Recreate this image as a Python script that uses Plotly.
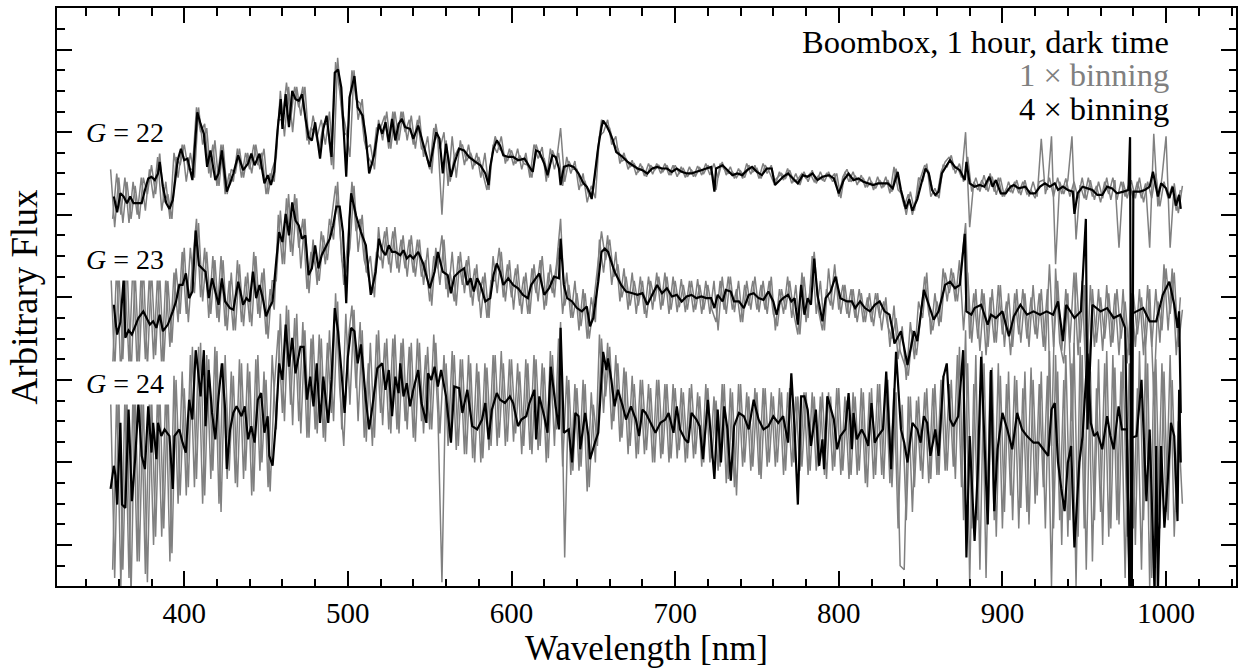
import plotly.graph_objects as go

# ---------------- data ----------------
# 1x binning spectra. Each series is stored as two interleaved pixel sets on regular
# wavelength grids: set A starts at WL1A_START, set B at WL1B_START, both with step WL1_STEP nm.
WL1A_START = 355.0
WL1B_START = 356.25
WL1_STEP = 2.5

BIN1_G22_A = [
    4.55, 3.85, 4.45, 3.90, 4.40, 3.95, 4.35, 3.95, 4.45, 4.25,
    4.60, 4.25, 4.75, 4.15, 4.25, 3.95, 4.70, 4.60, 4.85, 4.55,
    4.55, 5.30, 5.00, 5.10, 4.50, 4.85, 4.35, 4.85, 4.25, 4.50,
    4.40, 4.80, 4.45, 4.75, 4.55, 4.85, 4.60, 4.75, 4.25, 4.50,
    4.40, 5.15, 5.15, 5.60, 5.15, 5.55, 5.30, 5.55, 4.90, 5.05,
    5.00, 4.80, 5.10, 5.10, 4.60, 5.85, 5.50, 5.00, 4.95, 5.75,
    5.40, 5.35, 4.90, 4.70, 4.60, 5.05, 5.05, 5.20, 4.80, 5.25,
    4.85, 5.25, 5.00, 5.15, 4.85, 5.15, 4.80, 4.75, 4.55, 5.05,
    4.90, 4.00, 4.90, 4.40, 4.70, 4.80, 4.85, 4.65, 4.75, 4.60,
    4.70, 4.50, 4.30, 4.65, 4.95, 4.80, 4.75, 4.65, 4.78, 4.62,
    4.72, 4.62, 4.60, 4.45, 4.85, 4.70, 4.68, 4.45, 4.78, 4.65,
    5.05, 4.40, 4.65, 4.55, 4.55, 4.35, 4.40, 4.22, 4.30, 4.75,
    5.15, 5.10, 5.05, 4.85, 4.80, 4.65, 4.68, 4.58, 4.62, 4.52,
    4.58, 4.46, 4.60, 4.54, 4.60, 4.52, 4.60, 4.48, 4.60, 4.50,
    4.56, 4.46, 4.54, 4.47, 4.57, 4.50, 4.60, 4.52, 4.30, 4.62,
    4.55, 4.50, 4.52, 4.45, 4.53, 4.45, 4.60, 4.52, 4.56, 4.44,
    4.60, 4.52, 4.40, 4.45, 4.50, 4.44, 4.54, 4.40, 4.43, 4.50,
    4.44, 4.50, 4.40, 4.47, 4.42, 4.50, 4.44, 4.50, 4.22, 4.46,
    4.55, 4.40, 4.47, 4.40, 4.44, 4.34, 4.40, 4.32, 4.42, 4.34,
    4.42, 4.28, 4.56, 4.30, 4.10, 4.25, 4.00, 4.22, 4.45, 4.60,
    4.52, 4.28, 4.22, 4.52, 4.64, 4.70, 4.55, 4.58, 4.45, 5.00,
    3.85, 4.40, 4.30, 4.42, 4.30, 4.50, 4.28, 4.45, 4.22, 4.32,
    4.28, 4.40, 4.26, 4.40, 4.25, 4.30, 4.20, 4.40, 4.42, 4.30,
    4.95, 3.40, 4.40, 4.25, 4.42, 4.95, 3.70, 4.36, 4.20, 4.45,
    4.22, 4.35, 4.15, 4.40, 4.25, 4.45, 4.18, 4.40, 4.22, 4.38,
    4.20, 4.40, 4.20, 4.38, 3.60, 4.98, 4.10, 4.45, 4.95, 3.60,
    4.38, 4.02, 4.35,
]
BIN1_G22_B = [
    3.95, 4.50, 4.00, 4.45, 3.90, 4.40, 4.00, 4.45, 4.05, 4.55,
    4.20, 4.70, 4.05, 4.40, 3.95, 4.75, 4.45, 4.85, 4.40, 4.75,
    4.45, 5.30, 4.85, 5.05, 4.45, 4.90, 4.35, 4.85, 4.25, 4.55,
    4.50, 4.80, 4.45, 4.75, 4.50, 4.85, 4.55, 4.80, 4.25, 4.55,
    4.70, 5.50, 4.95, 5.55, 5.00, 5.55, 5.20, 5.55, 4.85, 5.20,
    4.95, 5.15, 4.85, 5.25, 4.55, 5.90, 5.30, 5.05, 4.70, 5.75,
    5.15, 5.40, 4.80, 4.85, 4.55, 5.15, 4.90, 5.25, 4.80, 5.25,
    4.90, 5.25, 4.90, 5.20, 4.80, 5.20, 4.70, 4.95, 4.50, 5.10,
    4.80, 5.00, 4.35, 4.95, 4.45, 4.90, 4.60, 4.85, 4.55, 4.75,
    4.45, 4.75, 4.30, 4.85, 4.75, 4.95, 4.62, 4.80, 4.60, 4.80,
    4.55, 4.75, 4.45, 4.85, 4.68, 4.82, 4.40, 4.80, 4.55, 4.75,
    4.35, 4.70, 4.50, 4.65, 4.30, 4.50, 4.15, 4.35, 4.20, 4.95,
    5.00, 5.15, 4.85, 4.95, 4.62, 4.75, 4.55, 4.66, 4.48, 4.62,
    4.47, 4.62, 4.49, 4.62, 4.50, 4.62, 4.48, 4.60, 4.46, 4.58,
    4.45, 4.58, 4.46, 4.59, 4.48, 4.62, 4.48, 4.62, 4.45, 4.64,
    4.48, 4.58, 4.44, 4.56, 4.44, 4.62, 4.49, 4.60, 4.44, 4.62,
    4.50, 4.60, 4.36, 4.52, 4.42, 4.56, 4.38, 4.50, 4.36, 4.52,
    4.40, 4.54, 4.38, 4.52, 4.40, 4.52, 4.40, 4.50, 4.20, 4.52,
    4.40, 4.52, 4.36, 4.48, 4.33, 4.46, 4.30, 4.46, 4.32, 4.46,
    4.26, 4.58, 4.30, 4.25, 4.00, 4.28, 4.05, 4.45, 4.40, 4.62,
    4.22, 4.32, 4.20, 4.60, 4.58, 4.72, 4.50, 4.62, 4.40, 4.70,
    4.28, 4.45, 4.28, 4.48, 4.28, 4.46, 4.24, 4.45, 4.22, 4.40,
    4.26, 4.42, 4.24, 4.42, 4.22, 4.40, 4.22, 4.92, 4.25, 4.45,
    4.22, 4.45, 4.25, 4.44, 4.22, 4.40, 4.20, 4.45, 4.18, 4.42,
    4.18, 4.40, 4.20, 4.45, 4.18, 4.42, 3.60, 4.40, 4.20, 4.42,
    4.20, 4.45, 4.15, 4.40, 4.20, 4.50, 4.10, 4.40, 4.20, 4.35,
    4.05, 4.30,
]

BIN1_G23_A = [
    3.40, 2.10, 3.35, 2.25, 3.45, 2.05, 3.30, 2.20, 3.40, 2.15,
    3.35, 2.30, 3.30, 2.20, 3.20, 2.45, 3.35, 2.80, 3.60, 2.70,
    3.40, 3.95, 3.00, 3.60, 2.75, 3.50, 2.75, 3.50, 2.65, 3.20,
    2.60, 3.45, 2.70, 3.25, 2.70, 3.55, 2.80, 3.30, 2.55, 3.10,
    2.85, 4.00, 3.40, 4.20, 3.55, 4.25, 3.60, 3.95, 3.10, 3.55,
    3.40, 3.20, 3.75, 3.45, 3.95, 4.35, 3.85, 3.15, 3.70, 4.40,
    3.80, 3.95, 3.45, 3.25, 3.05, 3.55, 3.45, 3.80, 3.40, 3.80,
    3.35, 3.70, 3.35, 3.70, 3.30, 3.70, 3.25, 3.45, 2.95, 3.50,
    3.35, 3.75, 3.10, 3.30, 2.95, 3.50, 3.15, 3.45, 3.00, 3.35,
    2.95, 3.25, 2.75, 3.20, 3.20, 3.60, 3.00, 3.40, 3.00, 3.35,
    2.90, 3.25, 2.80, 3.35, 3.05, 3.45, 2.85, 3.30, 3.05, 3.40,
    3.95, 2.90, 3.15, 2.75, 3.05, 2.65, 3.05, 2.50, 2.90, 3.35,
    3.80, 3.45, 3.70, 3.25, 3.40, 3.00, 3.25, 2.90, 3.20, 2.90,
    3.20, 2.75, 3.20, 2.95, 3.25, 2.90, 3.25, 2.85, 3.20, 2.88,
    3.15, 2.85, 3.20, 2.85, 3.15, 2.85, 3.15, 2.85, 2.70, 3.20,
    2.85, 3.25, 2.85, 3.10, 2.70, 3.15, 2.90, 3.20, 2.85, 3.15,
    2.85, 3.20, 2.80, 2.65, 3.10, 2.85, 3.20, 2.80, 2.55, 3.30,
    2.70, 3.10, 3.55, 2.85, 2.60, 3.10, 2.90, 3.40, 2.85, 3.15,
    2.80, 3.10, 2.75, 3.10, 2.70, 3.00, 2.70, 3.05, 2.75, 2.95,
    2.65, 2.50, 2.75, 2.35, 2.20, 2.05, 2.60, 2.30, 2.75, 3.25,
    2.80, 2.60, 2.95, 2.70, 3.30, 3.05, 3.30, 2.95, 3.40, 3.90,
    2.50, 3.05, 2.50, 3.10, 2.30, 3.00, 2.45, 3.15, 2.55, 2.95,
    2.30, 3.05, 2.55, 3.10, 2.50, 3.00, 2.55, 3.05, 2.40, 3.10,
    1.20, 3.35, 2.45, 2.20, 3.05, 1.50, 3.30, 2.45, 3.15, 1.70,
    3.10, 2.45, 3.00, 2.50, 3.05, 2.45, 3.10, 2.50, 2.95, 2.30,
    3.05, 2.55, 3.00, 2.40, 3.10, 1.80, 2.95, 2.60, 3.35, 2.80,
    3.30, 2.40, 2.85,
]
BIN1_G23_B = [
    2.15, 3.40, 2.05, 3.30, 2.20, 3.45, 2.10, 3.35, 2.25, 3.30,
    2.25, 3.30, 2.15, 3.25, 2.40, 3.30, 2.70, 3.55, 2.80, 3.60,
    3.05, 3.90, 2.95, 3.55, 2.80, 3.45, 2.70, 3.45, 2.60, 3.30,
    2.60, 3.40, 2.65, 3.30, 2.65, 3.50, 2.75, 3.35, 2.50, 3.20,
    3.20, 4.05, 3.40, 4.25, 3.50, 4.20, 3.35, 3.95, 3.05, 3.70,
    3.15, 3.80, 3.40, 3.95, 3.70, 4.40, 3.45, 3.30, 3.60, 4.35,
    3.55, 4.00, 3.30, 3.50, 3.00, 3.85, 3.35, 3.85, 3.30, 3.85,
    3.30, 3.75, 3.25, 3.75, 3.25, 3.70, 3.15, 3.60, 2.90, 3.60,
    3.15, 3.70, 3.00, 3.55, 2.90, 3.55, 3.05, 3.50, 2.90, 3.40,
    2.75, 3.30, 2.75, 3.50, 3.05, 3.55, 2.95, 3.45, 2.85, 3.40,
    2.80, 3.30, 2.80, 3.40, 2.95, 3.50, 2.90, 3.40, 3.00, 3.60,
    2.80, 3.30, 2.75, 3.20, 2.60, 3.10, 2.50, 3.00, 2.70, 3.70,
    3.30, 3.75, 3.15, 3.55, 2.95, 3.35, 2.85, 3.30, 2.80, 3.25,
    2.80, 3.25, 2.85, 3.30, 2.85, 3.30, 2.80, 3.25, 2.82, 3.22,
    2.82, 3.20, 2.82, 3.22, 2.80, 3.20, 2.80, 3.20, 2.60, 3.25,
    2.80, 3.25, 2.82, 3.20, 2.70, 3.20, 2.85, 3.25, 2.82, 3.20,
    2.80, 3.25, 2.60, 3.10, 2.80, 3.25, 2.75, 3.15, 2.55, 3.25,
    2.75, 3.50, 2.80, 3.20, 2.60, 3.35, 2.85, 3.25, 2.80, 3.15,
    2.75, 3.10, 2.70, 3.05, 2.70, 3.05, 2.65, 3.05, 2.60, 3.00,
    2.40, 2.90, 2.25, 2.65, 2.00, 2.70, 2.25, 2.95, 2.75, 3.30,
    2.55, 3.05, 2.65, 3.35, 2.95, 3.35, 2.95, 3.45, 2.60, 3.30,
    2.45, 3.10, 2.35, 3.05, 2.40, 3.10, 2.45, 3.15, 2.40, 3.05,
    2.40, 3.10, 2.45, 3.05, 2.40, 3.15, 2.50, 3.10, 2.35, 3.40,
    2.40, 3.20, 2.35, 3.10, 2.45, 3.30, 2.30, 3.20, 1.90, 3.15,
    2.40, 3.10, 2.35, 3.15, 2.40, 3.05, 2.30, 3.10, 2.20, 3.05,
    2.40, 3.10, 2.30, 3.15, 2.40, 3.10, 2.45, 3.40, 2.60, 3.35,
    2.30, 3.00,
]

BIN1_G24_A = [
    1.80, -0.40, 1.85, -0.30, 1.75, -0.60, 1.90, -0.20, 1.80, -0.45,
    1.85, 0.10, 1.90, 0.20, 1.95, -0.10, 2.00, 0.60, 1.90, 0.70,
    2.40, 0.80, 2.45, 0.60, 2.25, 0.90, 2.35, 0.40, 2.30, 0.90,
    2.05, 0.70, 2.20, 0.90, 2.10, 0.65, 2.30, 1.00, 2.00, 0.65,
    1.90, 2.60, 1.60, 2.90, 1.70, 2.75, 1.50, 2.70, 1.30, 2.50,
    1.40, 2.55, 1.30, 2.45, 1.60, 3.05, 1.90, 1.20, 2.45, 2.90,
    1.90, 2.70, 1.30, 2.20, 1.20, 2.55, 1.60, 2.45, 1.40, 2.50,
    1.40, 2.45, 1.50, 2.40, 1.30, 2.50, 1.50, 2.30, 1.40, 2.55,
    1.60, -0.45, 2.20, 1.30, 2.30, 1.20, 2.25, 1.10, 2.20, 1.00,
    2.10, 1.05, 2.15, 1.20, 2.30, 1.30, 2.20, 1.25, 2.25, 1.35,
    2.10, 1.20, 2.20, 1.10, 2.25, 1.20, 2.15, 1.05, 2.30, 1.40,
    2.70, -0.15, 2.00, 0.90, 1.90, 0.95, 1.95, 0.70, 1.70, 1.20,
    2.50, 1.80, 2.40, 1.50, 2.20, 1.30, 2.10, 1.20, 1.95, 1.10,
    2.00, 1.15, 1.90, 1.00, 2.00, 1.10, 1.95, 1.05, 1.90, 1.15,
    1.85, 1.05, 1.95, 1.10, 1.80, 1.00, 1.90, 1.05, 1.75, 0.95,
    1.95, 0.80, 1.85, 0.60, 1.95, 1.00, 1.80, 0.95, 1.85, 0.80,
    1.90, 1.00, 1.80, 1.00, 1.85, 0.90, 1.90, 1.00, 1.80, 0.95,
    1.85, 0.90, 1.80, 0.95, 1.85, 0.80, 1.80, 0.95, 1.90, 0.90,
    1.75, 0.85, 1.80, 0.90, 1.85, 0.70, 1.90, 0.85, 1.95, 0.80,
    2.00, 0.70, 1.85, -0.25, -0.30, 1.80, 0.40, 1.75, 0.90, 1.85,
    0.75, 1.90, 0.85, 2.00, 0.90, 1.95, 0.95, 2.30, 0.70, 2.60,
    -0.45, 1.95, 0.30, 2.35, -0.40, 2.10, 0.30, 2.20, 0.20, 1.95,
    0.60, 2.05, 0.20, 1.90, 0.40, 2.15, 0.50, 1.95, 0.70, 2.05,
    -0.50, 2.30, 0.30, 2.00, 0.10, 2.20, -0.50, 2.40, 0.20, 2.50,
    -0.20, 1.90, 0.40, 2.20, 0.10, 2.30, 0.30, 2.10, -0.40, 2.20,
    0.20, 1.90, -0.30, 2.40, -0.50, 2.10, 0.30, 2.20, 0.40, 2.30,
    0.10, 1.50, 0.50,
]
BIN1_G24_B = [
    -0.30, 1.85, -0.50, 1.80, -0.40, 1.90, -0.20, 1.85, -0.35, 1.80,
    0.00, 1.90, 0.10, 1.95, -0.20, 2.05, 0.50, 2.10, 0.60, 2.30,
    0.70, 2.40, 0.50, 2.30, 0.80, 2.40, 0.50, 2.20, 0.80, 2.10,
    0.75, 2.25, 0.80, 2.20, 0.60, 2.25, 0.90, 2.10, 0.70, 2.30,
    1.40, 2.80, 1.50, 2.85, 1.45, 2.80, 1.35, 2.60, 1.30, 2.55,
    1.35, 2.50, 1.25, 2.60, 1.50, 2.95, 1.40, 2.80, 1.70, 2.85,
    1.50, 2.60, 1.25, 2.45, 1.30, 2.60, 1.45, 2.50, 1.35, 2.55,
    1.35, 2.50, 1.40, 2.45, 1.25, 2.45, 1.35, 2.40, 1.40, 2.45,
    1.35, 2.30, 1.20, 2.35, 1.15, 2.25, 1.10, 2.30, 1.05, 2.20,
    1.00, 2.20, 1.15, 2.30, 1.20, 2.35, 1.20, 2.25, 1.25, 2.20,
    1.10, 2.25, 1.15, 2.30, 1.15, 2.20, 1.00, 2.35, 1.20, 2.50,
    0.95, 2.05, 0.85, 1.95, 0.90, 2.00, 0.65, 1.85, 1.00, 2.55,
    1.60, 2.45, 1.40, 2.30, 1.25, 2.15, 1.10, 2.05, 1.05, 2.00,
    1.10, 1.95, 1.00, 2.00, 1.05, 1.95, 1.00, 1.95, 1.05, 1.90,
    1.00, 1.90, 1.05, 1.85, 0.95, 1.95, 1.00, 1.80, 0.90, 1.95,
    0.75, 1.90, 0.70, 1.95, 0.95, 1.85, 0.90, 1.90, 0.85, 1.90,
    0.95, 1.85, 0.95, 1.90, 0.85, 1.85, 0.95, 1.80, 0.90, 1.85,
    0.85, 1.85, 0.90, 1.80, 0.85, 1.85, 0.90, 1.90, 0.85, 1.80,
    0.80, 1.85, 0.85, 1.90, 0.75, 1.85, 0.80, 1.95, 0.85, 1.95,
    0.75, 1.90, 0.20, 1.70, 0.30, 1.80, 0.70, 1.80, 0.80, 1.90,
    0.80, 1.95, 0.85, 2.05, 0.90, 2.00, 0.80, 2.40, 0.30, 2.20,
    0.20, 2.30, -0.30, 2.20, 0.25, 2.15, 0.10, 2.05, 0.40, 2.10,
    0.30, 2.00, 0.45, 2.10, 0.25, 2.00, 0.60, 2.10, 0.20, 2.35,
    0.20, 2.10, 0.00, 2.30, 0.30, 2.45, 0.10, 2.30, -0.30, 2.10,
    0.30, 2.25, 0.00, 2.35, 0.20, 2.15, 0.25, 2.30, 0.10, 2.20,
    0.00, 2.35, 0.30, 2.20, -0.40, 2.25, 0.20, 2.10, 0.30, 2.00,
    0.40, 1.60,
]

# 4x binning spectra: (wavelength [nm], flux)
BIN4_G22 = [
    (357, 4.22), (359, 4.03), (361, 4.26), (363, 4.22), (365, 4.14), (367, 4.22), (369, 4.14), (372, 4.14),
    (374, 4.14), (376, 4.30), (378, 4.44), (380, 4.46), (382, 4.42), (384, 4.50), (385, 4.64), (387, 4.34),
    (389, 4.14), (391, 4.07), (393, 4.18), (396, 4.66), (398, 4.80), (400, 4.66), (402, 4.68), (405, 4.42),
    (408, 5.24), (410, 5.10), (412, 4.98), (414, 4.58), (416, 4.78), (419, 4.42), (421, 4.50), (423, 4.78),
    (426, 4.28), (428, 4.38), (430, 4.50), (433, 4.72), (436, 4.54), (439, 4.62), (441, 4.74), (443, 4.60),
    (446, 4.74), (449, 4.38), (451, 4.48), (453, 4.36), (455, 4.52), (457, 5.02), (459, 5.40), (460, 5.04),
    (462, 5.46), (464, 5.06), (466, 5.50), (468, 5.40), (470, 5.38), (472, 5.46), (474, 5.18), (476, 4.94),
    (478, 4.90), (480, 5.12), (483, 4.68), (485, 5.04), (487, 5.20), (490, 4.70), (492, 5.72), (494, 5.76),
    (496, 5.54), (499, 4.46), (501, 5.42), (504, 5.68), (506, 5.30), (509, 5.20), (511, 4.94), (513, 4.50),
    (516, 4.72), (519, 5.10), (521, 4.98), (523, 5.12), (525, 4.88), (527, 5.16), (529, 4.90), (531, 5.10),
    (533, 5.16), (535, 5.06), (538, 5.04), (540, 4.92), (543, 5.08), (546, 4.86), (550, 4.58), (554, 5.00),
    (556, 4.92), (558, 4.50), (560, 4.86), (563, 4.46), (565, 4.62), (568, 4.80), (571, 4.78), (574, 4.70),
    (578, 4.64), (581, 4.60), (584, 4.50), (586, 4.36), (587, 4.58), (589, 4.80), (591, 4.90), (593, 4.84),
    (595, 4.72), (598, 4.70), (601, 4.70), (604, 4.66), (608, 4.68), (611, 4.58), (613, 4.52), (615, 4.78),
    (617, 4.76), (620, 4.62), (622, 4.48), (625, 4.72), (627, 4.70), (629, 4.56), (630, 4.36), (632, 4.58),
    (635, 4.60), (638, 4.58), (641, 4.50), (644, 4.38), (646, 4.34), (648, 4.26), (649, 4.19), (651, 4.50),
    (653, 4.82), (655, 5.06), (656, 5.14), (658, 5.08), (660, 5.00), (662, 4.90), (664, 4.76), (668, 4.70),
    (671, 4.64), (674, 4.60), (677, 4.56), (680, 4.54), (683, 4.50), (686, 4.56), (689, 4.58), (692, 4.56),
    (695, 4.56), (698, 4.52), (701, 4.56), (704, 4.52), (707, 4.50), (710, 4.50), (713, 4.52), (716, 4.54),
    (719, 4.56), (722, 4.58), (724, 4.28), (725, 4.56), (729, 4.60), (732, 4.54), (735, 4.48), (738, 4.50),
    (741, 4.48), (744, 4.54), (747, 4.58), (750, 4.52), (753, 4.48), (756, 4.56), (759, 4.56), (761, 4.36),
    (763, 4.40), (766, 4.46), (769, 4.50), (772, 4.44), (775, 4.38), (778, 4.48), (781, 4.46), (784, 4.50),
    (787, 4.42), (790, 4.46), (794, 4.48), (797, 4.44), (800, 4.26), (803, 4.42), (806, 4.50), (809, 4.42),
    (812, 4.44), (815, 4.40), (818, 4.38), (821, 4.36), (824, 4.38), (827, 4.38), (830, 4.38), (833, 4.32),
    (836, 4.52), (838, 4.30), (841, 4.07), (843, 4.19), (845, 4.05), (848, 4.19), (851, 4.42), (853, 4.56),
    (855, 4.50), (857, 4.30), (859, 4.24), (861, 4.28), (863, 4.50), (866, 4.60), (868, 4.66), (871, 4.58),
    (874, 4.54), (877, 4.42), (878, 4.64), (880, 4.38), (883, 4.34), (886, 4.36), (889, 4.34), (892, 4.46),
    (894, 4.34), (896, 4.42), (899, 4.26), (902, 4.26), (905, 4.34), (907, 4.36), (910, 4.32), (914, 4.34),
    (917, 4.26), (920, 4.26), (923, 4.34), (926, 4.38), (929, 4.34), (932, 4.38), (934, 4.30), (937, 4.34),
    (940, 4.30), (943, 4.28), (944, 4.01), (946, 4.26), (949, 4.34), (952, 4.32), (955, 4.30), (958, 4.24),
    (961, 4.24), (964, 4.34), (967, 4.32), (970, 4.26), (974, 4.28), (977, 4.30), (978, 4.94), (979, -1.00),
    (980, 4.28), (984, 4.28), (987, 4.30), (990, 4.34), (992, 4.52), (995, 4.22), (997, 4.38), (1000, 4.32),
    (1002, 4.20), (1004, 4.34), (1006, 4.11), (1008, 4.24), (1009, 4.07),
]

BIN4_G23 = [
    (357, 2.91), (358, 2.71), (359, 2.55), (361, 2.70), (363, 3.23), (364, 2.51), (366, 2.60), (368, 2.55),
    (370, 2.65), (372, 2.75), (375, 2.83), (377, 2.75), (379, 2.67), (381, 2.71), (383, 2.63), (385, 2.79),
    (387, 2.59), (390, 2.67), (393, 2.83), (395, 2.95), (397, 3.15), (399, 3.15), (401, 3.29), (403, 2.99),
    (405, 3.07), (407, 3.81), (409, 3.39), (411, 3.35), (413, 3.31), (415, 2.99), (417, 3.23), (419, 3.07),
    (421, 2.91), (423, 3.23), (425, 2.95), (428, 2.87), (430, 2.85), (433, 3.19), (436, 2.91), (438, 2.99),
    (440, 2.95), (442, 3.31), (444, 2.99), (446, 3.15), (448, 2.99), (450, 2.77), (452, 2.87), (454, 2.95),
    (456, 3.39), (458, 3.79), (460, 3.67), (462, 4.01), (464, 3.75), (466, 4.15), (468, 3.93), (470, 3.87),
    (472, 3.71), (474, 3.75), (476, 3.27), (478, 3.35), (480, 3.63), (482, 3.35), (484, 3.51), (487, 3.63),
    (489, 3.71), (491, 3.87), (493, 4.10), (495, 4.10), (497, 3.79), (499, 2.93), (501, 3.95), (502, 4.26),
    (505, 3.99), (508, 3.79), (511, 3.63), (514, 3.03), (517, 3.31), (519, 3.71), (521, 3.57), (523, 3.51),
    (525, 3.63), (527, 3.55), (529, 3.55), (532, 3.51), (534, 3.57), (536, 3.47), (538, 3.51), (540, 3.47),
    (543, 3.55), (546, 3.41), (550, 3.11), (553, 3.31), (555, 3.55), (558, 3.31), (561, 3.27), (563, 3.05),
    (565, 3.25), (568, 3.31), (571, 3.35), (573, 3.15), (575, 3.23), (577, 3.07), (579, 3.23), (581, 3.15),
    (584, 2.95), (587, 2.99), (589, 3.27), (591, 3.41), (593, 3.31), (595, 3.15), (598, 3.23), (601, 3.15),
    (604, 3.11), (607, 3.03), (610, 2.99), (612, 3.15), (617, 3.29), (620, 3.03), (623, 3.11), (626, 3.25),
    (629, 3.23), (630, 3.71), (632, 3.15), (634, 2.99), (637, 2.95), (640, 2.87), (643, 2.83), (646, 2.89),
    (648, 2.65), (650, 2.75), (653, 3.19), (655, 3.55), (657, 3.59), (659, 3.55), (661, 3.43), (663, 3.31),
    (665, 3.23), (667, 3.15), (670, 3.07), (674, 3.05), (677, 3.03), (680, 3.05), (683, 2.91), (686, 3.03),
    (689, 3.15), (692, 3.05), (695, 3.11), (698, 3.01), (701, 3.03), (704, 2.95), (707, 3.01), (710, 3.03),
    (713, 2.99), (716, 3.01), (719, 2.99), (722, 2.99), (724, 2.87), (726, 3.03), (729, 2.95), (731, 3.09),
    (734, 3.07), (736, 2.95), (739, 2.95), (742, 2.87), (745, 3.03), (748, 3.05), (751, 2.99), (754, 2.97),
    (757, 3.07), (760, 2.95), (762, 2.79), (764, 2.95), (766, 2.99), (769, 3.03), (771, 2.95), (773, 2.99),
    (775, 2.67), (777, 3.15), (779, 2.79), (781, 2.99), (783, 2.91), (785, 3.47), (787, 3.03), (790, 2.71),
    (792, 2.99), (795, 3.07), (798, 3.25), (801, 2.99), (805, 2.95), (808, 2.95), (810, 2.87), (813, 2.95),
    (816, 2.87), (819, 2.83), (822, 2.91), (825, 2.95), (828, 2.83), (831, 2.79), (833, 2.59), (834, 2.44),
    (838, 2.59), (842, 2.18), (846, 2.59), (848, 2.47), (852, 3.09), (855, 2.91), (858, 2.73), (861, 2.83),
    (865, 3.15), (868, 3.19), (871, 3.11), (874, 3.15), (877, 3.77), (878, 2.83), (881, 2.79), (883, 2.87),
    (887, 2.91), (891, 2.67), (893, 2.79), (896, 2.75), (900, 2.83), (904, 2.53), (907, 2.77), (911, 2.91),
    (915, 2.79), (919, 2.83), (923, 2.79), (927, 2.83), (931, 2.79), (934, 2.95), (937, 2.47), (939, 2.91),
    (944, 2.75), (948, 2.83), (951, 3.95), (952, 1.40), (955, 2.91), (960, 2.83), (964, 2.87), (968, 2.75),
    (972, 2.79), (975, 2.63), (978, -1.00), (979, 2.80), (982, 2.83), (986, 2.87), (990, 2.71), (994, 2.71),
    (998, 3.03), (1002, 3.19), (1005, 2.91), (1007, 2.63), (1008, 2.83), (1009, 1.60),
]

BIN4_G24 = [
    (355, 0.68), (357, 0.96), (358, 0.84), (359, 0.49), (361, 1.48), (362, 0.49), (364, 0.45), (366, 1.64),
    (368, 0.53), (370, 1.04), (372, 1.72), (374, 1.08), (376, 0.92), (378, 1.68), (380, 1.12), (381, 1.48),
    (383, 1.04), (384, 1.48), (386, 1.32), (388, 1.40), (391, 1.32), (393, 0.68), (394, 1.32), (397, 1.40),
    (399, 1.24), (401, 1.12), (403, 1.76), (405, 1.52), (407, 2.36), (408, 2.20), (410, 1.80), (412, 2.36),
    (413, 1.44), (415, 2.12), (417, 1.60), (419, 1.28), (421, 1.80), (423, 2.20), (425, 1.64), (426, 0.92),
    (428, 1.40), (430, 1.60), (432, 1.68), (435, 1.56), (437, 1.68), (439, 1.28), (441, 1.44), (443, 1.24),
    (445, 1.76), (447, 1.84), (449, 1.36), (451, 1.56), (452, 1.08), (454, 0.96), (456, 1.48), (458, 2.20),
    (460, 2.00), (462, 2.67), (464, 2.16), (466, 2.51), (468, 2.08), (471, 2.40), (473, 2.40), (475, 1.76),
    (477, 2.04), (479, 1.68), (481, 2.20), (483, 1.48), (485, 2.04), (488, 1.48), (490, 2.00), (492, 2.87),
    (494, 2.59), (496, 2.12), (498, 1.60), (500, 2.28), (502, 2.63), (504, 2.59), (506, 2.20), (508, 2.43),
    (511, 1.76), (513, 1.40), (515, 1.68), (518, 2.14), (521, 2.20), (523, 1.88), (525, 2.12), (527, 1.56),
    (529, 2.04), (531, 1.84), (532, 2.20), (534, 1.80), (536, 1.96), (538, 1.68), (540, 1.88), (543, 2.12),
    (545, 1.72), (548, 1.48), (549, 2.08), (551, 2.00), (553, 2.16), (555, 1.92), (557, 2.12), (560, 1.80),
    (563, 1.24), (565, 1.92), (568, 1.90), (570, 1.60), (573, 1.88), (576, 1.44), (579, 1.40), (582, 1.52),
    (584, 1.72), (586, 1.28), (588, 1.64), (591, 1.84), (593, 1.76), (596, 1.72), (599, 1.80), (601, 1.72),
    (604, 1.44), (606, 1.52), (609, 1.56), (611, 1.72), (614, 1.88), (615, 1.28), (617, 1.80), (620, 1.56),
    (622, 1.36), (624, 2.16), (627, 1.68), (629, 1.40), (630, 2.63), (632, 1.36), (635, 1.40), (637, 1.00),
    (639, 1.60), (641, 1.56), (642, 1.16), (645, 1.60), (647, 1.32), (648, 1.04), (651, 1.24), (653, 1.36),
    (656, 2.34), (658, 2.12), (659, 2.26), (661, 2.00), (663, 1.68), (665, 1.88), (668, 1.68), (670, 1.52),
    (673, 1.68), (676, 1.52), (678, 1.32), (680, 1.64), (682, 1.60), (685, 1.48), (688, 1.36), (691, 1.48),
    (694, 1.52), (696, 1.60), (699, 1.36), (701, 1.68), (703, 1.40), (706, 1.28), (708, 1.24), (710, 1.60),
    (713, 1.52), (715, 1.44), (717, 1.04), (720, 1.76), (722, 1.28), (724, 0.80), (726, 1.64), (728, 1.00),
    (730, 1.68), (732, 1.40), (734, 0.78), (736, 1.44), (739, 1.60), (742, 1.56), (745, 1.40), (748, 1.76),
    (751, 1.52), (754, 1.40), (757, 1.44), (760, 1.56), (763, 1.48), (766, 1.56), (769, 1.24), (771, 2.08),
    (773, 1.40), (775, 0.49), (777, 1.80), (779, 1.80), (781, 1.64), (783, 1.20), (786, 1.64), (788, 0.96),
    (790, 1.28), (791, 0.92), (793, 1.80), (797, 1.52), (799, 1.16), (801, 1.32), (804, 1.40), (806, 1.84),
    (808, 1.16), (809, 1.60), (811, 1.28), (814, 1.40), (816, 1.32), (818, 1.20), (820, 1.72), (822, 1.24),
    (824, 1.32), (827, 1.40), (829, 2.10), (832, 0.92), (835, 2.34), (838, 1.40), (840, 1.24), (842, 1.00),
    (845, 1.48), (848, 1.40), (850, 1.24), (852, 1.56), (854, 1.48), (856, 1.08), (859, 1.40), (861, 1.08),
    (864, 2.04), (866, 2.20), (868, 1.52), (870, 1.44), (873, 1.56), (876, 2.36), (878, -0.15), (880, 1.32),
    (883, 0.05), (885, 0.92), (887, 2.28), (889, 1.28), (891, 0.25), (893, 2.12), (895, 0.41), (897, 1.16),
    (900, 1.60), (903, 1.40), (906, 1.16), (909, 1.60), (912, 1.40), (915, 1.32), (919, 1.24), (922, 1.24),
    (925, 1.16), (928, 1.08), (930, 1.64), (932, 1.72), (934, 1.00), (936, 0.68), (938, 0.41), (940, 1.00),
    (942, 1.20), (944, -0.03), (947, 1.00), (949, 1.32), (952, 2.32), (954, 1.48), (956, 1.32), (958, 1.36),
    (961, 1.16), (964, 1.56), (966, 1.32), (968, 1.16), (971, 1.68), (973, 1.40), (976, 1.40), (978, -0.80),
    (979, 1.30), (982, 1.32), (985, 2.00), (988, 0.53), (990, 1.40), (993, -0.59), (994, 1.20), (995, -0.59),
    (997, 1.20), (999, 0.21), (1001, 0.76), (1003, 1.48), (1005, 1.32), (1007, 0.29), (1008, 1.88), (1009, 1.00),
]

SERIES_LABELS = ["G = 22", "G = 23", "G = 24"]
LABEL_LEVELS = [5.0, 3.47, 1.96]          # flux level at which each magnitude label sits
LEGEND_LINES = ["Boombox, 1 hour, dark time", "1 \u00d7 binning", "4 \u00d7 binning"]
X_TICKS = [400, 500, 600, 700, 800, 900, 1000]

# ---------------- style ----------------
FONT = "Liberation Serif"
GRAY = "#808080"
BLACK = "#000000"

fig = go.Figure()

for a_vals, b_vals in ((BIN1_G22_A, BIN1_G22_B), (BIN1_G23_A, BIN1_G23_B), (BIN1_G24_A, BIN1_G24_B)):
    xa = [WL1A_START + WL1_STEP * i for i in range(len(a_vals))]
    xb = [WL1B_START + WL1_STEP * i for i in range(len(b_vals))]
    fig.add_trace(go.Scatter(x=xa + [None] + xb, y=list(a_vals) + [None] + list(b_vals),
                             mode="lines", connectgaps=False,
                             line=dict(color=GRAY, width=1.5, simplify=False),
                             hoverinfo="skip", showlegend=False))

for pairs in (BIN4_G22, BIN4_G23, BIN4_G24):
    xs = [p[0] for p in pairs]
    ys = [p[1] for p in pairs]
    fig.add_trace(go.Scatter(x=xs, y=ys, mode="lines",
                             line=dict(color=BLACK, width=2.2, simplify=False),
                             hoverinfo="skip", showlegend=False))

annotations = []
for lab, lev in zip(SERIES_LABELS, LABEL_LEVELS):
    g, num = lab.split(" = ")
    annotations.append(dict(
        x=364, y=lev, xref="x", yref="y",
        text=f"<i>{g}</i> = {num}", showarrow=False,
        font=dict(family=FONT, size=28, color=BLACK),
        bgcolor="white", width=92, height=42, borderpad=0,
        xanchor="center", yanchor="middle"))

legend_colors = [BLACK, GRAY, BLACK]
legend_y = [0.9420, 0.8840, 0.8260]
for txt, col, yy in zip(LEGEND_LINES, legend_colors, legend_y):
    annotations.append(dict(
        x=0.9445, y=yy, xref="paper", yref="paper",
        text=txt, showarrow=False, xanchor="right", yanchor="middle",
        font=dict(family=FONT, size=32.5, color=col)))

fig.update_layout(
    width=1244, height=668,
    margin=dict(l=57, r=6, t=6, b=76),
    paper_bgcolor="white", plot_bgcolor="white",
    showlegend=False,
    font=dict(family=FONT, color=BLACK),
    annotations=annotations,
)

fig.update_xaxes(
    range=[322.25, 1042.75],
    showline=True, linecolor=BLACK, linewidth=2, mirror="allticks",
    ticks="inside", ticklen=15, tickwidth=1.5, tickcolor=BLACK,
    tickmode="array", tickvals=X_TICKS, ticktext=[str(v) for v in X_TICKS],
    tickfont=dict(family=FONT, size=29, color=BLACK),
    minor=dict(ticks="inside", ticklen=7.5, tickwidth=1.5, tickcolor=BLACK,
               tickmode="linear", tick0=0, dtick=20),
    showgrid=False, zeroline=False,
    title=dict(text="Wavelength [nm]", font=dict(family=FONT, size=35, color=BLACK), standoff=9),
)
fig.update_yaxes(
    range=[-0.496, 6.504],
    showline=True, linecolor=BLACK, linewidth=2, mirror="allticks",
    ticks="inside", ticklen=15, tickwidth=1.5, tickcolor=BLACK,
    tickmode="linear", tick0=0, dtick=1, showticklabels=False,
    minor=dict(ticks="inside", ticklen=7.5, tickwidth=1.5, tickcolor=BLACK,
               tickmode="linear", tick0=0, dtick=0.25),
    showgrid=False, zeroline=False,
    title=dict(text="Arbitrary Flux", font=dict(family=FONT, size=37, color=BLACK), standoff=6),
)

fig.write_html("out.html")
